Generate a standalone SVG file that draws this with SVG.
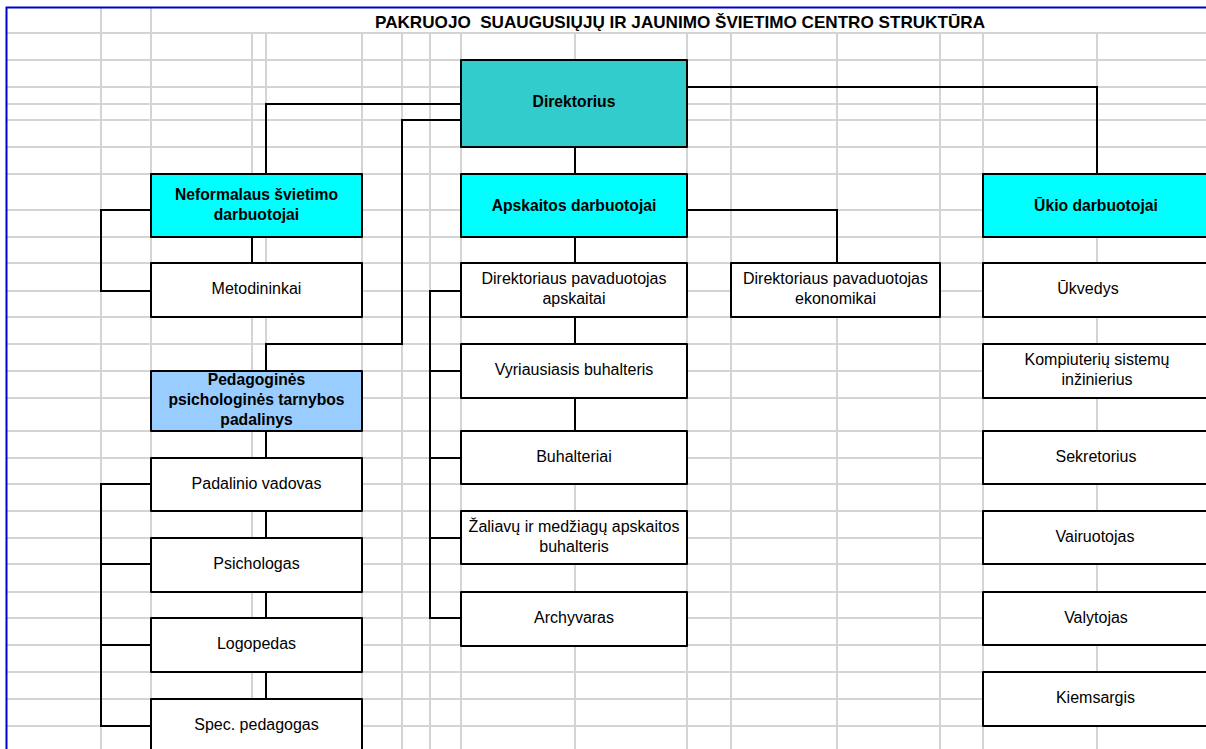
<svg xmlns="http://www.w3.org/2000/svg" width="1206" height="749" viewBox="0 0 1206 749">
<style>
.grid{stroke:#d4d4d4;stroke-width:2;fill:none}
.box{stroke:#000;stroke-width:2;stroke-linejoin:round}
.w{fill:#fff}
.cy{fill:#00ffff}
.tl{fill:#33cccc}
.lb{fill:#99ccff}
.con{stroke:#000;stroke-width:2;fill:none}
text{font-family:"Liberation Sans",Arial,sans-serif;font-size:16px;fill:#000;text-anchor:middle}
.b{font-weight:bold;font-size:15.7px}
</style>
<rect width="1206" height="749" fill="#fff"/>
<g id="grid" class="grid">
<path d="M7,33H1206M7,60H1206M7,87H1206M7,104H1206M7,120H1206M7,147H1206M7,174H1206M7,210H1206M7,237H1206M7,263H1206M7,291H1206M7,317H1206M7,344H1206M7,371H1206M7,398H1206M7,431H1206M7,458H1206M7,484H1206M7,511H1206M7,538H1206M7,564H1206M7,592H1206M7,618H1206M7,645H1206M7,672H1206M7,699H1206M7,726H1206"/>
<path d="M101,7V749M151,7V749M252,33V749M266,33V749M362,33V749M402,33V749M430,33V749M461,33V749M575,33V749M687,33V749M731,33V749M837,33V749M940,33V749M983,33V749M1097,33V749"/>
</g>
<path d="M6.5,749V7.5H1206" stroke="#0000cc" stroke-width="2" fill="none"/>
<text id="title" xml:space="preserve" x="375" y="28" style="text-anchor:start;font-weight:bold;font-size:17px;white-space:pre" textLength="610" lengthAdjust="spacingAndGlyphs">PAKRUOJO  SUAUGUSIŲJŲ IR JAUNIMO ŠVIETIMO CENTRO STRUKTŪRA</text>
<g id="connectors" class="con">
<path d="M687,87H1097V174"/>
<path d="M461,104H266V174"/>
<path d="M461,120H402V344H266V371"/>
<path d="M575,147V174"/>
<path d="M687,210H837V263"/>
<path d="M575,237V263M575,317V344M575,398V431"/>
<path d="M461,291H430V618H461M430,371H461M430,458H461M430,538H461"/>
<path d="M151,210H101V291H151"/>
<path d="M252,237V263"/>
<path d="M266,431V458M266,511V538M266,592V618M266,672V699"/>
<path d="M151,484H101V726H151M101,564H151M101,645H151"/>
</g>
<g id="n-direktorius"><rect class="box tl" x="461" y="60" width="226" height="87"/><text class="b" x="574" y="107">Direktorius</text></g>
<g id="n-neformalaus"><rect class="box cy" x="151" y="174" width="211" height="63"/><text class="b" x="256.5" y="200">Neformalaus švietimo</text><text class="b" x="256.5" y="220">darbuotojai</text></g>
<g id="n-apskaitos"><rect class="box cy" x="461" y="174" width="226" height="63"/><text class="b" x="574" y="210.5">Apskaitos darbuotojai</text></g>
<g id="n-ukio"><rect class="box cy" x="983" y="174" width="230" height="63"/><text class="b" x="1096" y="210.5">Ūkio darbuotojai</text></g>
<g id="n-metodininkai"><rect class="box w" x="151" y="263" width="211" height="54"/><text x="256.5" y="294">Metodininkai</text></g>
<g id="n-pedagogines"><rect class="box lb" x="151" y="371" width="211" height="60"/><text class="b" x="256.5" y="385">Pedagoginės</text><text class="b" x="256.5" y="405">psichologinės tarnybos</text><text class="b" x="256.5" y="425">padalinys</text></g>
<g id="n-padalinio"><rect class="box w" x="151" y="458" width="211" height="53"/><text x="256.5" y="489">Padalinio vadovas</text></g>
<g id="n-psichologas"><rect class="box w" x="151" y="538" width="211" height="54"/><text x="256.5" y="569">Psichologas</text></g>
<g id="n-logopedas"><rect class="box w" x="151" y="618" width="211" height="54"/><text x="256.5" y="649">Logopedas</text></g>
<g id="n-spec"><rect class="box w" x="151" y="699" width="211" height="70"/><text x="256.5" y="730">Spec. pedagogas</text></g>
<g id="n-pav-apskaitai"><rect class="box w" x="461" y="263" width="226" height="54"/><text x="574" y="284">Direktoriaus pavaduotojas</text><text x="574" y="304">apskaitai</text></g>
<g id="n-vyriausiasis"><rect class="box w" x="461" y="344" width="226" height="54"/><text x="574" y="375">Vyriausiasis buhalteris</text></g>
<g id="n-buhalteriai"><rect class="box w" x="461" y="431" width="226" height="53"/><text x="574" y="462">Buhalteriai</text></g>
<g id="n-zaliavu"><rect class="box w" x="461" y="511" width="226" height="53"/><text x="574" y="532">Žaliavų ir medžiagų apskaitos</text><text x="574" y="552">buhalteris</text></g>
<g id="n-archyvaras"><rect class="box w" x="461" y="592" width="226" height="54"/><text x="574" y="623">Archyvaras</text></g>
<g id="n-pav-ekonomikai"><rect class="box w" x="731" y="263" width="209" height="54"/><text x="835.5" y="284">Direktoriaus pavaduotojas</text><text x="835.5" y="304">ekonomikai</text></g>
<g id="n-ukvedys"><rect class="box w" x="983" y="263" width="230" height="54"/><text x="1088" y="294">Ūkvedys</text></g>
<g id="n-kompiuteriu"><rect class="box w" x="983" y="344" width="230" height="54"/><text x="1097" y="365">Kompiuterių sistemų</text><text x="1097" y="385">inžinierius</text></g>
<g id="n-sekretorius"><rect class="box w" x="983" y="431" width="230" height="53"/><text x="1096" y="462">Sekretorius</text></g>
<g id="n-vairuotojas"><rect class="box w" x="983" y="511" width="230" height="53"/><text x="1095" y="542">Vairuotojas</text></g>
<g id="n-valytojas"><rect class="box w" x="983" y="592" width="230" height="53"/><text x="1096" y="623">Valytojas</text></g>
<g id="n-kiemsargis"><rect class="box w" x="983" y="672" width="230" height="54"/><text x="1095.5" y="703">Kiemsargis</text></g>
</svg>
